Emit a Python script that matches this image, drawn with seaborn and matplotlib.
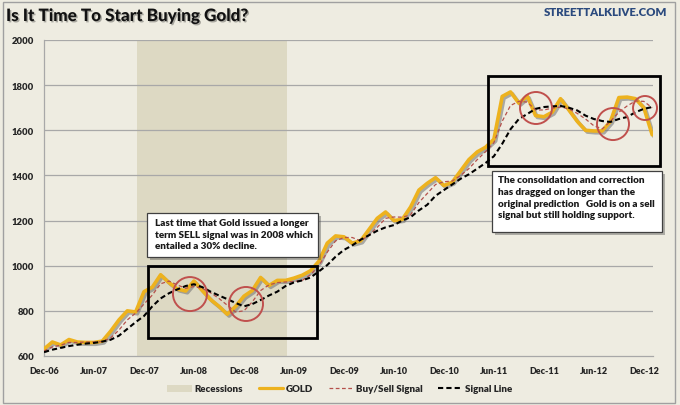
import numpy as np
import pandas as pd
import matplotlib
matplotlib.use("Agg")
import matplotlib.pyplot as plt
import matplotlib.patheffects as pe
from matplotlib.patches import Rectangle, Ellipse, Patch
from matplotlib.lines import Line2D
import seaborn as sns

# monthly values, Dec-06 .. Jan-13
gold = [631, 662, 649, 673, 662, 660, 660, 666, 710, 760, 800, 795,
        885, 905, 960, 925, 897, 888, 932, 890, 850, 820, 785, 820,
        865, 890, 948, 912, 935, 935, 945, 958, 978, 1020, 1100, 1132,
        1128, 1100, 1110, 1160, 1210, 1238, 1200, 1205, 1260, 1335, 1365, 1390,
        1355, 1370, 1420, 1470, 1504, 1525, 1560, 1750, 1770, 1720, 1752, 1665,
        1660, 1680, 1740, 1690, 1640, 1600, 1597, 1597, 1640, 1745, 1747, 1740,
        1700, 1580]
buy_sell = [622, 640, 648, 660, 660, 662, 662, 664, 680, 715, 760, 790,
            830, 870, 920, 932, 915, 900, 908, 900, 880, 855, 825, 795,
            800, 840, 890, 915, 925, 928, 930, 935, 960, 1000, 1060, 1110,
            1125, 1125, 1110, 1135, 1170, 1210, 1216, 1215, 1225, 1280, 1320, 1360,
            1372, 1375, 1400, 1430, 1470, 1505, 1545, 1640, 1710, 1728, 1725, 1690,
            1690, 1698, 1703, 1695, 1675, 1650, 1620, 1606, 1640, 1680, 1708, 1730,
            1728, 1700]
signal = [617, 628, 636, 644, 650, 655, 658, 664, 672, 690, 720, 750,
          777, 820, 855, 878, 895, 910, 918, 905, 885, 868, 852, 835,
          820, 830, 848, 868, 885, 910, 926, 935, 948, 975, 1003, 1040,
          1070, 1090, 1115, 1135, 1155, 1170, 1180, 1200, 1215, 1245, 1270, 1310,
          1335, 1360, 1385, 1405, 1430, 1455, 1485, 1540, 1605, 1650, 1672, 1695,
          1703, 1706, 1708, 1700, 1688, 1665, 1650, 1641, 1637, 1650, 1659, 1680,
          1695, 1703]
tick_labels = ["Dec-06", "Jun-07", "Dec-07", "Jun-08", "Dec-08", "Jun-09", "Dec-09",
               "Jun-10", "Dec-10", "Jun-11", "Dec-11", "Jun-12", "Dec-12"]
recession = [11.2, 29.2]  # month index, Nov-07 .. May-09

df = pd.DataFrame({"month": np.arange(len(gold)), "gold": gold,
                   "buy_sell": buy_sell, "signal": signal})

bg = "#EEECE1"
sns.set_style("white", {"axes.facecolor": bg, "figure.facecolor": bg})
plt.rcParams["font.family"] = ["Lato", "DejaVu Sans"]
plt.rcParams["font.weight"] = "heavy"
W = "heavy"

fig = plt.figure(figsize=(6.8, 4.06), dpi=100)
ax = fig.add_axes([44 / 680, 1 - 357 / 406, 609 / 680, 316 / 406])

ax.axvspan(recession[0], recession[1], color="#DDD9C3", lw=0, zorder=0)
for v in range(800, 2001, 200):
    ax.axhline(v, color="#A8A8A8", lw=0.9, zorder=1)

sns.lineplot(data=df, x="month", y="gold", ax=ax, color="#EDB21E", lw=2.6, zorder=4,
             path_effects=[pe.SimpleLineShadow(offset=(1.3, -1.3), shadow_color="#707070", alpha=0.55),
                           pe.Normal()])
sns.lineplot(data=df, x="month", y="buy_sell", ax=ax, color="#B5504B", lw=0.9, zorder=5,
             dashes=(3, 2))
sns.lineplot(data=df, x="month", y="signal", ax=ax, color="black", lw=1.5, zorder=6,
             dashes=(2.5, 1.5))

ax.set_xlim(0, 73.1)
ax.set_ylim(600, 2000)
ax.set_xticks(np.arange(0, 73, 6))
ax.set_xticklabels(tick_labels, fontweight=W)
ax.set_yticks(range(600, 2001, 200))
ax.set_yticklabels([str(v) for v in range(600, 2001, 200)], fontweight=W)
ax.set_xlabel("")
ax.set_ylabel("")
ax.tick_params(axis="x", labelsize=6.5, colors="#A8A8A8", labelcolor="#262626",
               direction="inout", length=4, pad=5)
ax.tick_params(axis="y", labelsize=6.8, colors="#A8A8A8", labelcolor="#262626",
               direction="out", length=4, pad=3)
for s in ["top", "right"]:
    ax.spines[s].set_visible(False)
for s in ["left", "bottom"]:
    ax.spines[s].set_color("#A8A8A8")
    ax.spines[s].set_linewidth(0.9)

# black boxes
for x0, y0, x1, y1 in [(0.171, 0.057, 0.448, 0.285), (0.729, 0.601, 1.011, 0.886)]:
    ax.add_patch(Rectangle((x0, y0), x1 - x0, y1 - y0, transform=ax.transAxes,
                           fill=False, ec="black", lw=2, zorder=7, clip_on=False))

# red circles
for cx, cy, r in [(0.2397, 0.196, 17), (0.3317, 0.1646, 17), (0.8079, 0.7848, 16),
                  (0.9343, 0.734, 16), (0.9869, 0.7848, 12)]:
    ax.add_patch(Ellipse((cx, cy), 2 * r / 609, 2 * r / 316, transform=ax.transAxes,
                         fill=False, ec="#C0504D", lw=1.4, zorder=8, clip_on=False))

# text boxes
notes = [((0.169, 0.313, 0.450, 0.4525), (0.182, 0.437),
          "Last time that Gold issued a longer\nterm SELL signal was in 2008 which\nentailed a 30% decline."),
         ((0.7356, 0.392, 1.015, 0.585), (0.7455, 0.572),
          "The consolidation and correction\nhas dragged on longer than the\n"
          "original prediction   Gold is on a sell\nsignal but still holding support.")]
for (x0, y0, x1, y1), (tx, ty), txt in notes:
    ax.add_patch(Rectangle((x0, y0), x1 - x0, y1 - y0, transform=ax.transAxes,
                           fc="white", ec="#404040", lw=0.9, zorder=9, clip_on=False,
                           path_effects=[pe.withSimplePatchShadow(offset=(2, -2), alpha=0.4)]))
    ax.text(tx, ty, txt, transform=ax.transAxes, ha="left", va="top", fontsize=7.1,
            fontweight=W, color="#1a1a1a", linespacing=1.38, zorder=10)

fig.text(6 / 680, 1 - 17 / 406, "Is It Time To Start Buying Gold?", fontsize=12.3,
         fontweight="black", color="#111111", ha="left", va="center",
         path_effects=[pe.withSimplePatchShadow(offset=(1, -1), alpha=0.3)])
fig.text(667 / 680, 1 - 13 / 406, "STREETTALKLIVE.COM", fontsize=8.2, fontweight=W,
         color="#2B4A7E", ha="right", va="center")

handles = [Patch(fc="#DDD9C3", ec="none"),
           Line2D([], [], color="#EDB21E", lw=2.3),
           Line2D([], [], color="#B5504B", lw=0.9, dashes=(3, 2)),
           Line2D([], [], color="black", lw=1.5, dashes=(2.5, 1.5))]
fig.legend(handles, ["Recessions", "GOLD", "Buy/Sell Signal", "Signal Line"],
           loc="center", bbox_to_anchor=(0.5, 1 - 390 / 406), ncol=4, frameon=False,
           prop={"size": 7, "weight": W}, handlelength=2.5, columnspacing=1.6,
           handletextpad=0.3)

fig.add_artist(Rectangle((3 / 680, 2 / 406), 672 / 680, 401 / 406, transform=fig.transFigure,
                         fill=False, ec="#A0A0A0", lw=1))

fig.savefig("out.png", dpi=100, facecolor=bg)
